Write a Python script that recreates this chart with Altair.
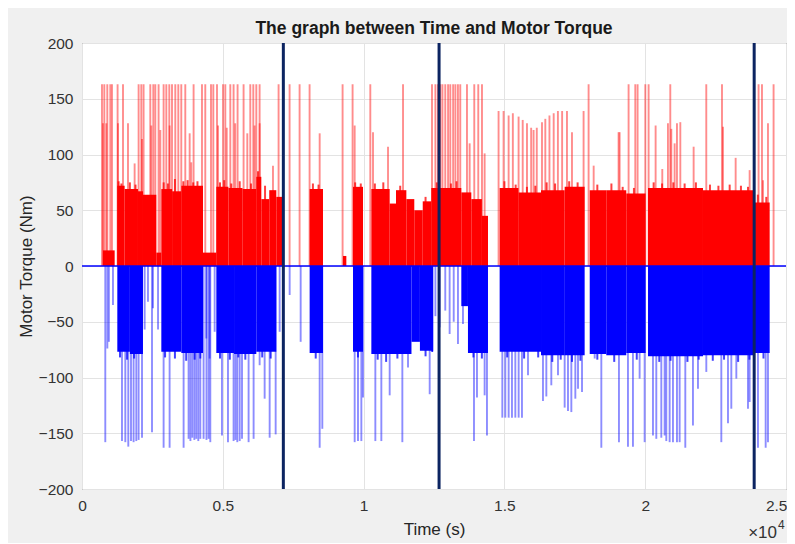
import altair as alt
import pandas as pd

# ---------------- data ----------------
# dense positive (red) envelope blocks: start time, end time, top torque
pos_block_start = [745, 1254, 1514, 1988, 2165, 2639, 2817, 3200, 3527, 4297, 4770, 5200, 5700,
                   6190, 6368, 6650, 6900, 8084, 9268, 9624, 10275, 10926, 11150, 11518, 11800, 12100,
                   12404, 13470, 13825, 14200, 14831, 15500, 16300, 17140, 18030,
                   18618, 19328, 20100, 22052, 23828]
pos_block_end = [1160, 1514, 1988, 2165, 2639, 2817, 3200, 3527, 4297, 4770, 5200, 5700, 6190,
                 6368, 6650, 6900, 7137, 8558, 9387, 9979, 10926, 11150, 11518, 11800, 12100, 12406,
                 13470, 13825, 14200, 14417, 15500, 16300, 17140, 17850, 18618,
                 19328, 20015, 22052, 23828, 24420]
pos_block_top = [14, 72, 69, 67, 64, 12, 69, 67, 72, 12, 71, 70, 69,
                 80, 60, 68, 62, 69, 9, 71, 69, 56, 68, 60, 50, 58,
                 70, 66, 60, 45, 70, 66, 68, 71, 68,
                 68, 65, 70, 68, 57]

# dense negative (blue) envelope blocks: start time, end time, bottom torque
neg_block_start = [1254, 1700, 2817, 3527, 4770, 5400, 6190, 8084, 9624, 10275, 11700, 12000,
                   12404, 13470, 13706, 14831, 16300, 17140, 18030,
                   18618, 19328, 20100, 22052, 23828]
neg_block_end = [1700, 2165, 3527, 4297, 5400, 6190, 6900, 8558, 9979, 11700, 12000, 12470,
                 12470, 13706, 14417, 16300, 17140, 17850, 18618,
                 19328, 20015, 22052, 23828, 24420]
neg_block_bottom = [-77, -79, -77, -78, -78, -79, -77, -78, -77, -79, -68, -76,
                    -77, -36, -78, -77, -80, -80, -79,
                    -80, -78, -81, -80, -78]

# positive spikes (time, torque)
pos_spike_time = [710, 792, 898, 1005, 1065, 1264, 1456, 2010, 2106, 2187, 2425, 2532, 2603, 2720,
                  2898, 2994, 3100, 3196, 3313, 3420, 3526, 3668, 3963, 4261, 4378, 4581, 4663, 4794,
                  5007, 5089, 5266, 5383, 5525, 5738, 5976, 6083, 6190, 6307, 6981, 7372, 7727, 8082,
                  9254, 9609, 10238, 11400, 12429, 12550, 12640, 12723, 12800, 12900, 13000, 13078,
                  13180, 13260, 13350, 13433, 13671, 13930, 14072, 14204, 17990, 19410, 19648, 19730,
                  20004, 20121, 20891, 22169, 22727, 24026, 24147, 24559,
                  14793, 14971, 15150, 15300, 15504, 15650, 15802, 15950, 16036, 16150, 16335, 16453,
                  16600, 16750, 16900, 17050, 17222, 17400, 17812,
                  745, 863, 1277, 1633, 1869, 2130, 2462, 2781, 3112, 3823, 3880, 4830, 5140, 5440,
                  5870, 6130, 6308, 6782, 8440, 9683, 10334, 10867, 13766, 14298, 18170, 19055, 19092,
                  20370, 20607, 20808, 20927, 21045, 21128, 21247, 21720, 22762, 23212, 23709, 24183,
                  24360]
pos_spike_value = [163, 163, 163, 163, 163, 163, 163, 163, 163, 163, 163, 163, 163, 163,
                   163, 163, 163, 163, 163, 163, 163, 163, 163, 163, 163, 163, 163, 163,
                   163, 163, 163, 163, 163, 163, 163, 163, 163, 163, 163, 163, 163, 163,
                   163, 163, 163, 163, 163, 163, 163, 163, 163, 163, 163, 163,
                   163, 163, 163, 163, 163, 163, 163, 163, 163, 163, 163, 163,
                   163, 163, 163, 163, 163, 163, 163, 163,
                   139, 139, 135, 137, 134, 131, 128, 124, 122, 124, 129, 132,
                   135, 137, 139, 139, 139, 120, 139,
                   128, 128, 128, 128, 92, 114, 126, 122, 126, 119, 93, 126, 124, 128,
                   119, 126, 128, 90, 119, 126, 120, 107, 110, 101, 90, 120, 120,
                   126, 87, 128, 123, 110, 128, 129, 107, 125, 97, 86, 77,
                   128]

# ragged fringe just above / below the dense envelope (time, torque)
pos_fringe_time = [1300, 1400, 1700, 1900, 2900, 3050, 3300, 3600, 3750, 3950, 4100, 4900, 5050,
                   5300, 5600, 6000, 6250, 6500, 8200, 8400, 9700, 9900, 10400, 10700, 11300, 12200,
                   12600, 13100, 13300, 15000, 15400, 15800, 16100, 16500, 16800, 17300, 17600, 18300,
                   18800, 19200, 19600, 20300, 20600, 21000, 21400, 21800, 22300, 22600, 23000, 23400,
                   23650, 24000, 24300]
pos_fringe_value = [76, 74, 75, 73, 75, 74, 78, 76, 77, 75, 76, 75, 77,
                    74, 76, 74, 85, 72, 74, 73, 75, 74, 74, 75, 72, 62,
                    75, 74, 76, 76, 73, 71, 72, 75, 74, 76, 75, 73,
                    74, 71, 70, 75, 74, 75, 74, 75, 73, 72, 73, 72,
                    71, 64, 62]
neg_fringe_time = [1350, 1600, 1850, 2950, 3300, 3700, 4000, 4200, 4900, 5250, 5550, 5800, 6400,
                   6700, 8300, 9800, 10500, 10800, 11200, 12200, 13900, 14200, 15100, 15700, 16200,
                   16700, 17000, 17400, 17700, 18300, 18900, 19700, 20500, 20900, 21500, 21900, 22400,
                   22800, 23300, 23700, 24200]
neg_fringe_value = [-82, -84, -83, -82, -83, -85, -84, -83, -83, -84, -82, -84, -82,
                    -83, -83, -82, -84, -86, -83, -81, -82, -83, -82, -83, -82,
                    -86, -84, -86, -85, -84, -86, -84, -86, -85, -86, -84, -85,
                    -84, -86, -84, -83]

# negative spikes (time, torque)
neg_spike_time = [827, 900, 955, 1100, 1420, 1538, 1644, 1740, 1832, 1928, 2010, 2131, 2225, 2343,
                  2486, 2520, 2700, 2898, 3111, 3608, 3785, 3850, 3917, 3990, 4059, 4130, 4201, 4318,
                  4415, 4420, 4496, 4533, 4556, 4711, 4971, 5184, 5383, 5450, 5515, 5600, 5682, 5916,
                  6094, 6308, 6486, 6664, 6877, 7019, 7374, 7765, 8440, 8534, 9683, 9801, 9920, 9979,
                  10417, 10630, 10926, 11376, 11577, 12347, 12550, 12700, 12900, 13055, 13200, 13351,
                  13529, 13612, 13920, 14026, 14298, 14381, 14926, 15032, 15151, 15269, 15388, 15506,
                  15624, 15838, 16370, 16489, 16666, 16903, 17140, 17258, 17377, 17519, 17614, 17756,
                  18206, 18442, 19068, 19388, 19565, 19802, 19980, 20276, 20394, 20572, 20690, 20749,
                  20868, 20986, 21128, 21223, 21424, 21696, 21874, 22170, 22703, 22940, 23058, 23236,
                  23650, 23709, 24005, 24278, 24360]
neg_spike_value = [-158, -74, -68, -35, -157, -158, -162, -157, -158, -157, -156, -154, -57, -32,
                   -149, -38, -57, -163, -163, -163, -155, -157, -154, -156, -155, -157, -155, -155,
                   -65, -156, -155, -83, -158, -59, -152, -158, -157, -156, -158, -157, -155, -158,
                   -155, -89, -119, -154, -151, -59, -26, -68, -163, -146, -158, -157, -157, -118,
                   -157, -157, -116, -158, -91, -115, -45, -55, -40, -61, -50, -70,
                   -52, -35, -157, -118, -116, -152, -136, -136, -136, -136, -136, -136,
                   -136, -98, -121, -117, -107, -98, -127, -130, -131, -119, -110, -113,
                   -83, -163, -158, -162, -162, -101, -158, -152, -155, -154, -152, -157,
                   -158, -158, -158, -158, -163, -143, -110, -95, -158, -141, -128, -101,
                   -128, -122, -163, -163, -158]

marker_times = [7150, 12680, 23870]

x_ticks = [0, 5000, 10000, 15000, 20000, 25000]
y_ticks = [-200, -150, -100, -50, 0, 50, 100, 150, 200]

# ---------------- tables ----------------
red_blocks = pd.DataFrame({"t0": pos_block_start, "t1": pos_block_end, "v": pos_block_top})
blue_blocks = pd.DataFrame({"t0": neg_block_start, "t1": neg_block_end, "v": neg_block_bottom})
red_spikes = pd.DataFrame({"t": pos_spike_time, "v": pos_spike_value})
blue_spikes = pd.DataFrame({"t": neg_spike_time, "v": neg_spike_value})
red_fringe = pd.DataFrame({"t": pos_fringe_time, "v": pos_fringe_value})
blue_fringe = pd.DataFrame({"t": neg_fringe_time, "v": neg_fringe_value})
markers = pd.DataFrame({"t": marker_times})
zero_df = pd.DataFrame({"v": [0]})

FONT = "Liberation Sans"
W, H = 704, 446

x_scale = alt.Scale(domain=[0, 25000], nice=False, zero=False)
y_scale = alt.Scale(domain=[-200, 200], nice=False)
x_axis = alt.Axis(values=x_ticks, labelExpr="datum.value / 10000", title="Time (s)",
                  grid=True, ticks=False, domain=False, labelPadding=9, titlePadding=8,
                  labelFlush=False,
                  labelAlign={"condition": {"test": "datum.value >= 25000", "value": "right"},
                              "value": "center"},
                  labelOffset={"condition": {"test": "datum.value >= 25000", "value": 1},
                               "value": 0})
y_axis = alt.Axis(values=y_ticks, title="Motor Torque (Nm)", grid=True, ticks=False,
                  domain=False, labelPadding=9, titlePadding=3, labelFlush=False)


def X(field):
    return alt.X(field, type="quantitative", scale=x_scale, axis=x_axis)


def Y(field):
    return alt.Y(field, type="quantitative", scale=y_scale, axis=y_axis)


red_rect = alt.Chart(red_blocks).mark_rect(color="#ff0000").encode(
    x=X("t0"), x2="t1", y=Y("v"), y2=alt.datum(0))
blue_rect = alt.Chart(blue_blocks).mark_rect(color="#0000ff").encode(
    x=X("t0"), x2="t1", y=Y("v"), y2=alt.datum(0))
red_edge = alt.Chart(red_fringe).mark_rule(color="#ff0000", opacity=0.75, strokeWidth=2).encode(
    x=X("t"), y=Y("v"), y2=alt.datum(0))
blue_edge = alt.Chart(blue_fringe).mark_rule(color="#0000ff", opacity=0.75, strokeWidth=2).encode(
    x=X("t"), y=Y("v"), y2=alt.datum(0))
red_rule = alt.Chart(red_spikes).mark_rule(color="#ff0000", opacity=0.45, strokeWidth=1.9).encode(
    x=X("t"), y=Y("v"), y2=alt.datum(0))
blue_rule = alt.Chart(blue_spikes).mark_rule(color="#0000ff", opacity=0.45, strokeWidth=1.9).encode(
    x=X("t"), y=Y("v"), y2=alt.datum(0))
zero_rule = alt.Chart(zero_df).mark_rule(color="#0000ff", strokeWidth=1.5).encode(y=Y("v"))
marker_rule = alt.Chart(markers).mark_rule(color="#0c2461", strokeWidth=3).encode(x=X("t"))

exp_text = alt.Chart(zero_df).mark_text(text="×10", font=FONT, fontSize=17, color="#333333",
                                        align="right", baseline="middle").encode(
    x=alt.value(W - 9), y=alt.value(H + 44))
exp_sup = alt.Chart(zero_df).mark_text(text="4", font=FONT, fontSize=12, color="#333333",
                                       align="left", baseline="middle").encode(
    x=alt.value(W - 8), y=alt.value(H + 36))

chart = alt.layer(red_rect, blue_rect, red_edge, blue_edge, red_rule, blue_rule, zero_rule,
                  marker_rule, exp_text, exp_sup).properties(
    width=W, height=H,
    title=alt.TitleParams("The graph between Time and Motor Torque", font=FONT, fontSize=17.5,
                          fontWeight="bold", color="#1a1a1a", offset=-1, anchor="middle"),
    autosize=alt.AutoSizeParams(type="none"),
    padding={"left": 74, "top": 35, "right": 1, "bottom": 54},
    background="#f0f0f0",
).configure_view(
    fill="white", stroke="#555555", strokeWidth=1
).configure_axis(
    labelFont=FONT, labelFontSize=15.5, labelColor="#333333",
    titleFont=FONT, titleFontSize=17, titleFontWeight="normal", titleColor="#262626",
    gridColor="#e3e3e3", gridWidth=1
)

chart.save("out.html", embed_options={"renderer": "svg", "actions": False})
